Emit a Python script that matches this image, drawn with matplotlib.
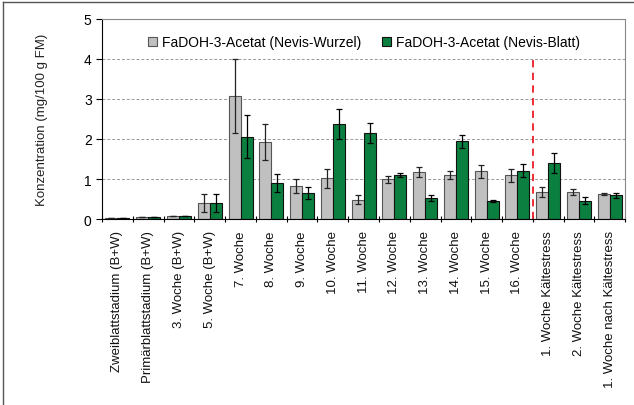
import numpy as np
import matplotlib
matplotlib.use("Agg")
import matplotlib.pyplot as plt
from matplotlib.lines import Line2D

# Kategorien und Messwerte (mg/100 g FM)
categories = ["Zweiblattstadium (B+W)", "Primärblattstadium (B+W)",
              "3. Woche (B+W)", "5. Woche (B+W)", "7. Woche", "8. Woche",
              "9. Woche", "10. Woche", "11. Woche", "12. Woche", "13. Woche",
              "14. Woche", "15. Woche", "16. Woche", "1. Woche Kältestress",
              "2. Woche Kältestress", "1. Woche nach Kältestress"]
wurzel = [0.02, 0.04, 0.08, 0.40, 3.08, 1.92, 0.82, 1.02, 0.48, 0.99,
          1.17, 1.09, 1.19, 1.09, 0.67, 0.67, 0.62]
wurzel_err = [0.0, 0.0, 0.0, 0.23, 0.93, 0.45, 0.17, 0.24, 0.11, 0.08,
              0.13, 0.10, 0.17, 0.17, 0.12, 0.07, 0.03]
blatt = [0.02, 0.04, 0.08, 0.40, 2.06, 0.90, 0.65, 2.38, 2.16, 1.11,
         0.52, 1.94, 0.45, 1.21, 1.40, 0.46, 0.59]
blatt_err = [0.0, 0.0, 0.0, 0.23, 0.54, 0.22, 0.15, 0.38, 0.25, 0.05,
             0.08, 0.16, 0.03, 0.17, 0.25, 0.09, 0.07]
labels = ["FaDOH-3-Acetat (Nevis-Wurzel)", "FaDOH-3-Acetat (Nevis-Blatt)"]

plt.rcParams["font.family"] = ["Liberation Sans", "DejaVu Sans"]

fig = plt.figure(figsize=(6.34, 4.06), dpi=100)
ax = fig.add_axes([0.161, 0.458, 0.825, 0.493])

x = np.arange(len(categories))
w = 0.39
ax.bar(x - w / 2, wurzel, w, color="#c0c0c0", edgecolor="#555555",
       linewidth=0.8, label=labels[0], zorder=2)
ax.bar(x + w / 2, blatt, w, color="#0b7f3f", edgecolor="#111111",
       linewidth=0.8, label=labels[1], zorder=2)
ax.errorbar(x - w / 2, wurzel, yerr=wurzel_err, fmt="none", ecolor="#222222",
            elinewidth=0.9, capsize=2.5, capthick=0.9, zorder=3)
ax.errorbar(x + w / 2, blatt, yerr=blatt_err, fmt="none", ecolor="#000000",
            elinewidth=0.9, capsize=2.5, capthick=0.9, zorder=3)

# Beginn Kältestress
ax.plot([13.5, 13.5], [0, 4.0], color="#ee1c25", linestyle=(0, (4, 3)),
        linewidth=1.3, zorder=4)

ax.set_xlim(-0.5, len(categories) - 0.5)
ax.set_ylim(0, 5)
ax.set_yticks(range(6))
for yv in range(1, 5):
    ax.axhline(yv, color="#999999", linestyle=(0, (3, 2)), linewidth=0.7,
               zorder=1)
ax.set_xticks(np.arange(len(categories) + 1) - 0.5, minor=False)
ax.set_xticklabels([])
ax.set_xticks(x, minor=True)
ax.set_xticklabels(categories, minor=True, rotation=90, fontsize=9.5,
                   color="#111111")
ax.tick_params(axis="x", which="minor", length=0, pad=8)
ax.tick_params(axis="x", which="major", length=4, direction="inout",
               width=0.8)
ax.tick_params(axis="y", direction="out", length=4, labelsize=10, width=0.8)
ax.set_ylabel("Konzentration (mg/100 g FM)", fontsize=9.5, labelpad=26,
              color="#222222")

ax.spines["left"].set_color("black")
ax.spines["bottom"].set_color("black")
ax.spines["top"].set_color("#888888")
ax.spines["top"].set_linestyle((0, (2, 1)))
ax.spines["right"].set_color("#888888")

ax.legend(loc="upper center", ncol=2, frameon=False, fontsize=10,
          handlelength=0.7, handleheight=0.7, columnspacing=1.5,
          handletextpad=0.3, bbox_to_anchor=(0.5, 0.98))

# Rahmen links und oben
fig.add_artist(Line2D([0.004, 0.004], [0, 0.993], color="#555555",
                      linewidth=1.0, transform=fig.transFigure))
fig.add_artist(Line2D([0.004, 1.0], [0.993, 0.993], color="#555555",
                      linewidth=1.0, transform=fig.transFigure))

fig.savefig("out.png", dpi=100)
